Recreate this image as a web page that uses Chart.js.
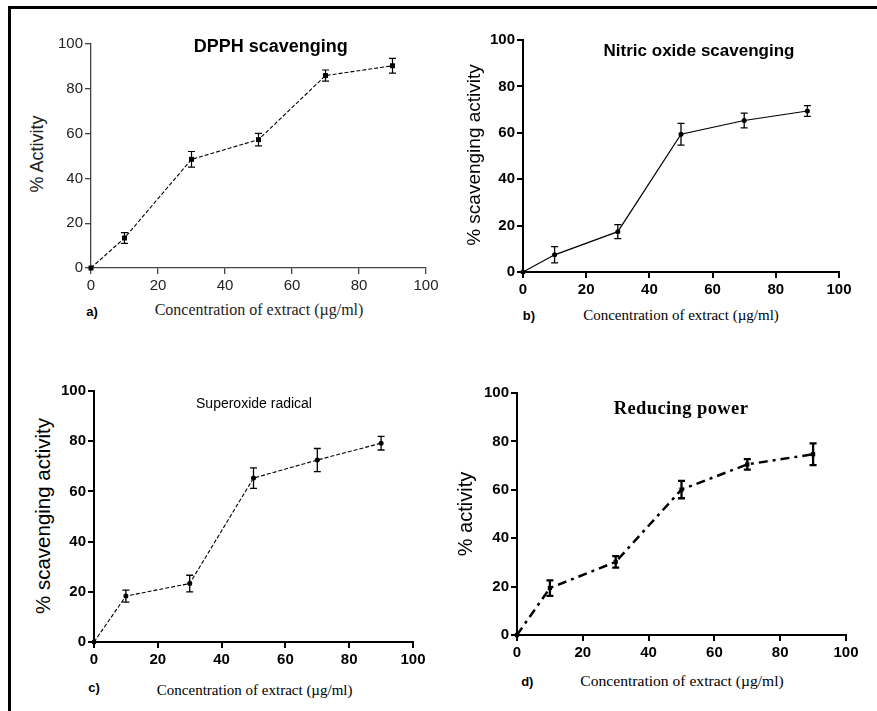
<!DOCTYPE html>
<html><head><meta charset="utf-8">
<script src="https://cdn.jsdelivr.net/npm/chart.js@4.4.1/dist/chart.umd.min.js"></script>
<style>
html,body{margin:0;padding:0;background:#fff;}
#wrap{position:relative;width:877px;height:711px;overflow:hidden;background:#fff;}
canvas{position:absolute;}
.t{position:absolute;white-space:nowrap;transform:translate(-50%,-50%);color:#000;line-height:1;}
.r{transform:translate(-50%,-50%) rotate(-90deg);}
.sans{font-family:"Liberation Sans",Arial,sans-serif;}
.serif{font-family:"Liberation Serif","Times New Roman",serif;}
</style></head>
<body><div id="wrap">
<div style="position:absolute;left:8px;top:6px;width:869px;height:3px;background:#000"></div>
<div style="position:absolute;left:8px;top:6px;width:3px;height:705px;background:#000"></div>
</div>
<script>
// ---- data ----
const concentrations = [0, 10, 30, 50, 70, 90];
const xTicks = [0, 20, 40, 60, 80, 100];
const yTicks = [0, 20, 40, 60, 80, 100];

const dpphValues = [0, 13.4, 48.5, 57.3, 85.9, 90.3];
const dpphErrors = [0, 2.4, 3.5, 2.8, 2.5, 3.3];

const nitricValues = [0, 7.4, 17.4, 59.4, 65.3, 69.4];
const nitricErrors = [0, 3.5, 3.0, 4.7, 3.2, 2.3];

const superoxideValues = [0, 18.3, 23.3, 65.3, 72.5, 79.2];
const superoxideErrors = [0, 2.4, 3.3, 4.1, 4.6, 2.7];

const reducingValues = [0, 19.4, 30.2, 60.1, 70.5, 74.7];
const reducingErrors = [0, 3.2, 2.4, 3.6, 2.2, 4.5];

const xTitle = "Concentration of extract (\u00b5g/ml)";

// ---- helpers ----
const wrap = document.getElementById('wrap');
function addText(txt, x, y, cls, style) {
  const d = document.createElement('div');
  d.className = 't ' + cls;
  d.textContent = txt;
  d.style.left = x + 'px'; d.style.top = y + 'px';
  Object.assign(d.style, style || {});
  wrap.appendChild(d);
}

const errorBarPlugin = {
  id: 'errbars',
  afterDatasetsDraw(chart) {
    const o = chart.options.plugins.errbars;
    const ds = chart.data.datasets[0];
    const xs = chart.scales.x, ys = chart.scales.y;
    const ctx = chart.ctx;
    ctx.save();
    ctx.strokeStyle = '#000';
    ctx.lineWidth = o.width;
    ds.data.forEach((p, i) => {
      const e = o.errors[i];
      if (!e) return;
      const x = xs.getPixelForValue(p.x);
      const y1 = ys.getPixelForValue(p.y + e);
      const y2 = ys.getPixelForValue(p.y - e);
      ctx.beginPath();
      ctx.moveTo(x, y1); ctx.lineTo(x, y2);
      ctx.moveTo(x - o.cap, y1); ctx.lineTo(x + o.cap, y1);
      ctx.moveTo(x - o.cap, y2); ctx.lineTo(x + o.cap, y2);
      ctx.stroke();
    });
    ctx.restore();
  }
};

function makePanel(cfg) {
  const yW = 40, padTop = 14, padRight = 22, xH = 32;
  const L = Math.round(cfg.area[0]), T = Math.round(cfg.area[1]);
  const R = Math.round(cfg.area[2]), B = Math.round(cfg.area[3]);
  const cw = R - L + yW + padRight, ch = B - T + padTop + xH;
  const c = document.createElement('canvas');
  c.width = cw; c.height = ch;
  c.style.left = (L - yW) + 'px'; c.style.top = (T - padTop) + 'px';
  c.style.width = cw + 'px'; c.style.height = ch + 'px';
  wrap.appendChild(c);
  const tickFont = { family: '"Liberation Sans", Arial, sans-serif', size: 15, weight: cfg.bold ? 'bold' : 'normal' };
  const axisCommon = {
    type: 'linear', min: 0, max: 100,
    grid: { display: true, drawOnChartArea: false, drawTicks: true, tickLength: 6, color: cfg.axisColor, lineWidth: cfg.axisWidth },
    border: { display: true, color: cfg.axisColor, width: cfg.axisWidth },
  };
  new Chart(c, {
    type: 'line',
    data: {
      datasets: [{
        data: concentrations.map((x, i) => ({ x: x, y: cfg.values[i] })),
        borderColor: '#000', backgroundColor: '#000',
        borderWidth: cfg.lineWidth, borderDash: cfg.dash,
        pointStyle: cfg.pointStyle, pointRadius: cfg.pointRadius,
        pointBackgroundColor: '#000', pointBorderColor: '#000', pointBorderWidth: 0,
        tension: 0, fill: false, clip: false
      }]
    },
    options: {
      responsive: false, animation: false, devicePixelRatio: 1,
      layout: { padding: { left: 0, top: padTop, right: padRight, bottom: 0 } },
      plugins: { legend: { display: false }, tooltip: { enabled: false },
        errbars: { errors: cfg.errors, width: cfg.errWidth, cap: cfg.cap } },
      scales: {
        x: Object.assign({}, axisCommon, {
          afterFit(s) { s.height = xH; },
          afterBuildTicks(s) { s.ticks = xTicks.map(v => ({ value: v })); },
          ticks: { font: tickFont, color: cfg.tickColor, padding: 3, maxRotation: 0, autoSkip: false }
        }),
        y: Object.assign({}, axisCommon, {
          afterFit(s) { s.width = yW; },
          afterBuildTicks(s) { s.ticks = yTicks.map(v => ({ value: v })); },
          ticks: { font: tickFont, color: cfg.tickColor, padding: 2, autoSkip: false }
        })
      }
    },
    plugins: [errorBarPlugin]
  });
}

// Panel a
makePanel({ area: [90.7, 44.3, 426, 267.7], values: dpphValues, errors: dpphErrors,
  bold: false, axisColor: '#444', axisWidth: 1.3, tickColor: '#222',
  lineWidth: 1.1, dash: [4, 2], pointStyle: 'rect', pointRadius: 3.5, errWidth: 1.2, cap: 3.5 });
addText('DPPH scavenging', 270.7, 46, 'sans', { fontSize: '18px', fontWeight: 'bold' });
addText('% Activity', 37, 154, 'sans r', { fontSize: '18px', color: '#222' });
addText(xTitle, 259, 310, 'serif', { fontSize: '16px', color: '#222' });
addText('a)', 92, 311, 'sans', { fontSize: '13px', fontWeight: 'bold' });

// Panel b
makePanel({ area: [522.7, 40, 839.3, 272.3], values: nitricValues, errors: nitricErrors,
  bold: true, axisColor: '#000', axisWidth: 2, tickColor: '#000',
  lineWidth: 1.2, dash: [], pointStyle: 'circle', pointRadius: 2.5, errWidth: 1.3, cap: 3.5 });
addText('Nitric oxide scavenging', 699, 50, 'sans', { fontSize: '17px', fontWeight: 'bold' });
addText('% scavenging activity', 473, 155, 'sans r', { fontSize: '19px' });
addText(xTitle, 681, 315, 'serif', { fontSize: '15px' });
addText('b)', 529, 315, 'sans', { fontSize: '13px', fontWeight: 'bold' });

// Panel c
makePanel({ area: [94.3, 390.7, 413.3, 642.3], values: superoxideValues, errors: superoxideErrors,
  bold: true, axisColor: '#000', axisWidth: 2, tickColor: '#000',
  lineWidth: 1.1, dash: [4, 2], pointStyle: 'circle', pointRadius: 2.5, errWidth: 1.3, cap: 3.5 });
addText('Superoxide radical', 254, 402.7, 'sans', { fontSize: '14px' });
addText('% scavenging activity', 43, 516, 'sans r', { fontSize: '20.5px' });
addText(xTitle, 254.7, 690, 'serif', { fontSize: '15px' });
addText('c)', 94, 686.7, 'sans', { fontSize: '13px', fontWeight: 'bold' });

// Panel d
makePanel({ area: [516.7, 392.7, 845.7, 634.7], values: reducingValues, errors: reducingErrors,
  bold: true, axisColor: '#000', axisWidth: 2, tickColor: '#000',
  lineWidth: 2.5, dash: [9, 5, 3, 5], pointStyle: 'rect', pointRadius: 3, errWidth: 2.3, cap: 3.5 });
addText('Reducing power', 681, 407.7, 'serif', { fontSize: '18.5px', fontWeight: 'bold', letterSpacing: '0.4px' });
addText('% activity', 465, 514, 'sans r', { fontSize: '20px' });
addText(xTitle, 682, 680.7, 'serif', { fontSize: '15.6px' });
addText('d)', 527.3, 680.7, 'sans', { fontSize: '13px', fontWeight: 'bold' });
</script>
</body></html>
